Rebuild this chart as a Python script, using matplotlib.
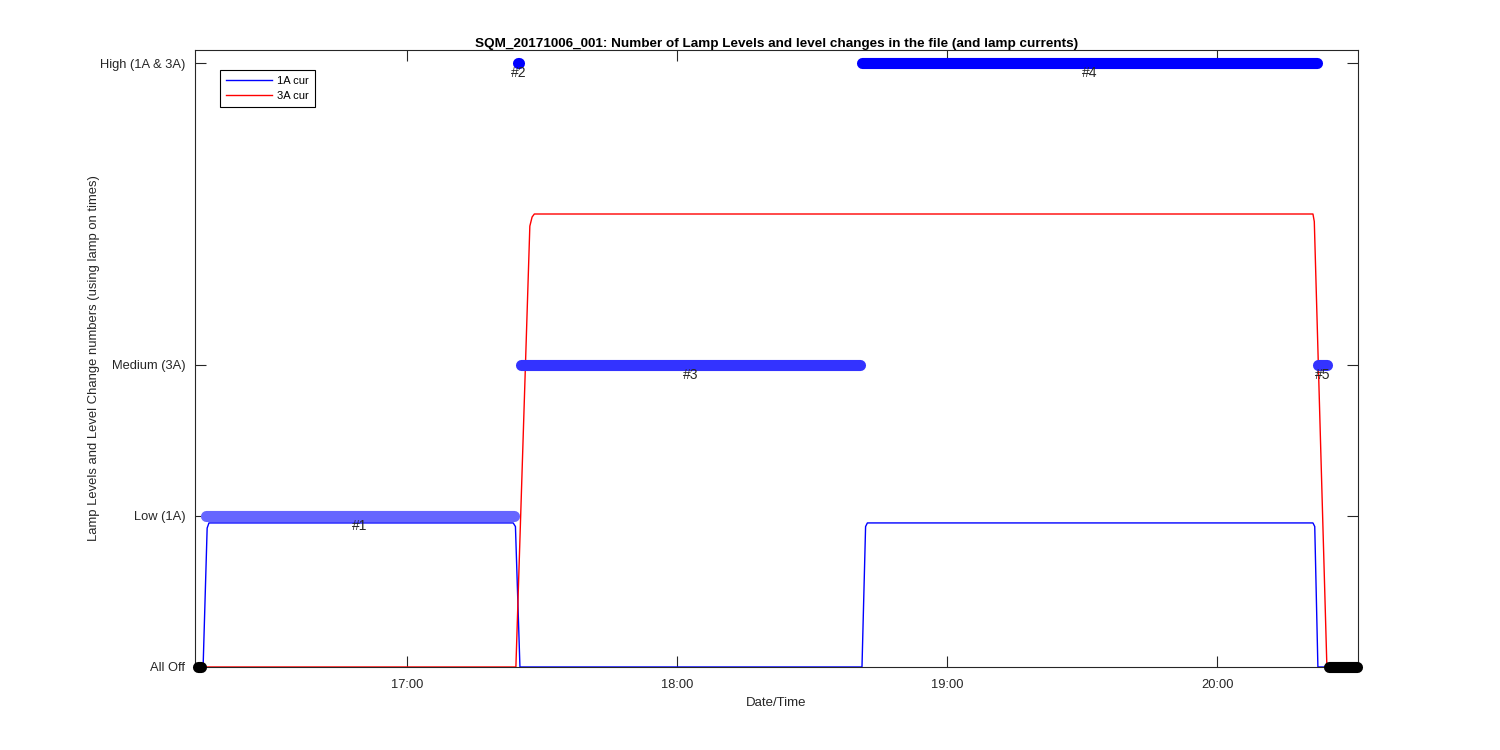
import matplotlib
matplotlib.use('Agg')
import matplotlib.pyplot as plt
import matplotlib.dates as mdates
import pandas as pd

plt.rcParams['font.family'] = ['Liberation Sans', 'DejaVu Sans']

day = pd.Timestamp('2017-10-06 16:00:00')

# level values on the y axis
level_ticks = [0, 1, 2, 4]
level_names = ['All Off', 'Low (1A)', 'Medium (3A)', 'High (1A & 3A)']

# level segments: start / end (minutes after 16:00), level, colour, label
seg_start = [13.5, 15.3, 84.7, 85.3, 161.1, 262.4, 264.9]
seg_end = [14.2, 83.8, 84.8, 160.7, 262.2, 264.4, 271.0]
seg_level = [0, 1, 4, 2, 4, 2, 0]
seg_color = ['black', '#6666ff', '#0000ff', '#3333ff', '#0000ff', '#3333ff', 'black']
seg_label = ['', '#1', '#2', '#3', '#4', '#5', '']

# lamp currents (scaled), minutes after 16:00
cur1_t = [13.3, 14.7, 15.6, 16.0, 83.6, 84.1, 85.1, 161.1, 161.9, 162.3, 261.3, 261.7, 262.4, 264.0]
cur1_v = [0, 0, 0.92, 0.954, 0.954, 0.93, 0, 0, 0.93, 0.954, 0.954, 0.93, 0, 0]
cur3_t = [13.3, 84.2, 87.3, 87.8, 88.3, 261.3, 261.6, 264.4, 271.3]
cur3_v = [0, 0, 2.92, 2.98, 3.0, 3.0, 2.95, 0, 0]


def to_time(mins):
    return [day + pd.Timedelta(minutes=m) for m in mins]


fig = plt.figure(figsize=(15, 7.5), dpi=100)
ax = fig.add_axes([0.13, 0.1107, 0.7753, 0.8226])

ax.plot(to_time(cur1_t), cur1_v, color='blue', linewidth=1, label='1A cur')
ax.plot(to_time(cur3_t), cur3_v, color='red', linewidth=1, label='3A cur')

for s, e, lv, c, lab in zip(seg_start, seg_end, seg_level, seg_color, seg_label):
    ax.plot(to_time([s, e]), [lv, lv], color=c, linewidth=8,
            solid_capstyle='round', clip_on=False, zorder=3)
    if lab:
        mid = to_time([(s + e) / 2])[0]
        ax.text(mid, lv - 0.065, lab, ha='center', va='center', fontsize=10,
                color='#262626', zorder=4)

ax.set_xlim(to_time([12.9])[0], to_time([271.3])[0])
ax.set_ylim(0, 4.086)
ax.set_yticks(level_ticks)
ax.set_yticklabels(level_names)
ax.xaxis.set_major_locator(mdates.HourLocator())
ax.xaxis.set_major_formatter(mdates.DateFormatter('%H:%M'))

ax.tick_params(direction='in', top=True, right=True, length=8, width=0.8,
               labelsize=9.3, colors='#262626')
ax.tick_params(axis='x', pad=9)
ax.tick_params(axis='y', pad=7)
for sp in ax.spines.values():
    sp.set_color('#262626')
    sp.set_linewidth(0.8)

ax.set_title('SQM_20171006_001: Number of Lamp Levels and level changes in the file (and lamp currents)',
             fontsize=9.7, fontweight='bold', pad=2)
ax.set_xlabel('Date/Time', fontsize=9.5, color='#262626', labelpad=4)
ax.set_ylabel('Lamp Levels and Level Change numbers (using lamp on times)', fontsize=9.4,
              color='#262626', labelpad=0)

leg = ax.legend(loc='upper left', bbox_to_anchor=(0.0215, 0.968), fontsize=8,
                handlelength=4.1, handletextpad=0.5, fancybox=False, edgecolor='black',
                framealpha=1, borderaxespad=0, borderpad=0.55, labelspacing=0.45)
leg.get_frame().set_linewidth(0.8)

fig.savefig('out.png', dpi=100)
